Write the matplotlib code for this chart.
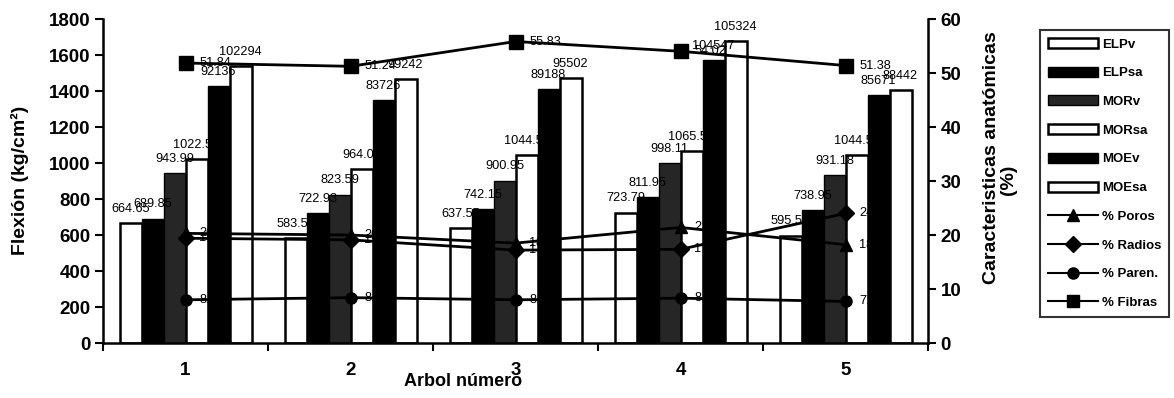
import matplotlib
matplotlib.use("Agg")
import matplotlib.pyplot as plt
from matplotlib.patches import Patch
from matplotlib.lines import Line2D
import numpy as np

plt.rcParams['font.family'] = ['Liberation Sans', 'DejaVu Sans']

# ---------------- data ----------------
arboles = ["1", "2", "3", "4", "5"]

elpv = [664.65, 583.55, 637.55, 723.79, 595.55]
elpsa = [689.85, 722.93, 742.15, 811.95, 738.95]
morv = [943.99, 823.59, 900.95, 998.11, 931.18]
morsa = [1022.55, 964.05, 1044.55, 1065.55, 1044.55]
moev_height = [1428, 1350, 1409, 1572, 1378]
moesa_height = [1539, 1467, 1470, 1678, 1406]
moev_labels = ["92136", "83726", "89188", "104547", "85671"]
moesa_labels = ["102294", "99242", "95502", "105324", "88442"]

poros = [20.3, 20.0, 18.5, 21.4, 18.2]
radios = [19.4, 19.1, 17.2, 17.35, 24.0]
paren = [8.0, 8.4, 8.0, 8.3, 7.7]
fibras = [51.84, 51.24, 55.83, 54.02, 51.38]

bar_series = [
    ("ELPv", elpv, [f"{v:.2f}" for v in elpv]),
    ("ELPsa", elpsa, [f"{v:.2f}" for v in elpsa]),
    ("MORv", morv, [f"{v:.2f}" for v in morv]),
    ("MORsa", morsa, [f"{v:.2f}" for v in morsa]),
    ("MOEv", moev_height, moev_labels),
    ("MOEsa", moesa_height, moesa_labels),
]
bar_styles = {
    "ELPv": dict(facecolor="white", edgecolor="black", linewidth=1.8),
    "ELPsa": dict(facecolor="black", edgecolor="black", linewidth=1.0),
    "MORv": dict(facecolor="#262626", edgecolor="black", linewidth=1.0),
    "MORsa": dict(facecolor="white", edgecolor="black", linewidth=1.8),
    "MOEv": dict(facecolor="black", edgecolor="black", linewidth=1.0),
    "MOEsa": dict(facecolor="white", edgecolor="black", linewidth=1.8),
}
line_series = [
    ("% Poros", poros, "^"),
    ("% Radios", radios, "D"),
    ("% Paren.", paren, "o"),
    ("% Fibras", fibras, "s"),
]

# ---------------- figure ----------------
W, H = 1174, 398
fig = plt.figure(figsize=(W / 100, H / 100), dpi=100)
ax = fig.add_axes([103 / W, 1 - 343 / H, (928 - 103) / W, (343 - 19) / H])
ax2 = ax.twinx()

n = len(arboles)
nb = len(bar_series)
bw = 0.8 / nb
x = np.arange(n)

for j, (name, vals, labs) in enumerate(bar_series):
    xs = x + 0.1 + (j + 0.5) * bw
    ax.bar(xs, vals, width=bw, label=name, zorder=2, **bar_styles[name])
    for xi, v, lab in zip(xs, vals, labs):
        ax.annotate(lab, (xi, v), xytext=(0, 6), textcoords="offset points",
                    ha="center", va="bottom", fontsize=9.2, zorder=5)

ax.set_xlim(0, n)
ax.set_ylim(0, 1800)
ax.set_yticks(np.arange(0, 1801, 200))
ax.set_xticks(x + 0.5)
ax.set_xticklabels(arboles, fontsize=13.5, fontweight="bold")
ax.set_xticks(np.arange(0, n + 1), minor=True)
ax.tick_params(axis="x", which="major", length=0, pad=14)
ax.tick_params(axis="x", which="minor", length=6, width=1.5, direction="out")
ax.tick_params(axis="y", length=6, width=1.5, direction="out", labelsize=13.5, pad=3)
for t in ax.get_yticklabels():
    t.set_fontweight("bold")

ax2.set_ylim(0, 60)
ax2.set_yticks(np.arange(0, 61, 10))
ax2.tick_params(axis="y", length=6, width=1.5, direction="out", labelsize=13.5, pad=3)
for t in ax2.get_yticklabels():
    t.set_fontweight("bold")

for name, vals, mk in line_series:
    ms = 10 if mk == "s" else 8
    ax2.plot(x + 0.5, vals, color="black", linewidth=2, marker=mk, markersize=ms,
             label=name, zorder=4)
    for xi, v in zip(x + 0.5, vals):
        ax2.annotate(f"{v:.2f}", (xi, v), xytext=(10, 0), textcoords="offset points",
                     ha="left", va="center", fontsize=9.2, zorder=5)

for a in (ax, ax2):
    a.spines["top"].set_visible(False)
    for s in ("left", "right", "bottom"):
        a.spines[s].set_linewidth(1.8)
ax.spines["right"].set_visible(False)
ax2.spines["left"].set_visible(False)
ax2.spines["bottom"].set_visible(False)
ax.set_zorder(ax2.get_zorder() - 1)
ax.patch.set_visible(False)
ax2.patch.set_visible(False)

fig.text(20 / W, 1 - 180 / H, "Flexión (kg/cm²)", rotation=90, ha="center",
         va="center", fontsize=14, fontweight="bold")
fig.text(463 / W, 1 - 382 / H, "Arbol número", ha="center", va="center",
         fontsize=13, fontweight="bold")
fig.text(992 / W, 1 - 158 / H, "Caracteristicas anatómicas", rotation=90,
         ha="center", va="center", fontsize=14, fontweight="bold")
fig.text(1008 / W, 1 - 180 / H, "(%)", rotation=90,
         ha="center", va="center", fontsize=14, fontweight="bold")

handles = [Patch(label=name, **bar_styles[name]) for name, _, _ in bar_series]
for name, _, mk in line_series:
    ms = 9 if mk == "s" else 8
    handles.append(Line2D([], [], color="black", linewidth=1.5, marker=mk,
                          markersize=ms, label=name))
leg = fig.legend(handles=handles, loc="upper left",
                 bbox_to_anchor=(1040 / W, 1 - 30 / H),
                 frameon=True, fancybox=False, edgecolor="black",
                 prop=dict(size=9.5, weight="bold"), handlelength=3.8,
                 handleheight=0.8, labelspacing=1.22, handletextpad=0.3,
                 borderpad=0.6, borderaxespad=0)
leg.get_frame().set_linewidth(1.5)

fig.savefig("out.png", dpi=100)
